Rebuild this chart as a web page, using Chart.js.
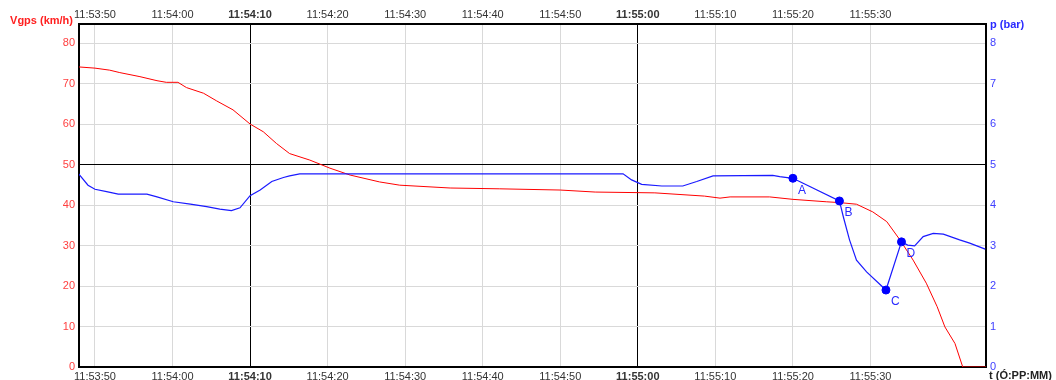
<!DOCTYPE html>
<html>
<head>
<meta charset="utf-8">
<script src="https://cdn.jsdelivr.net/npm/chart.js@4.4.0/dist/chart.umd.min.js"></script>
<style>
  html, body { margin: 0; padding: 0; background: #fff; }
  #wrap { width: 1056px; height: 380px; }
</style>
</head>
<body>
<div id="wrap"><canvas id="canvas"></canvas></div>
<script>
// time = seconds after 11:53:50
var T0 = 11*3600 + 53*60 + 50;

var speedTime = [-2.1, 0, 1.9, 3.2, 5.8, 8.0, 9.2, 10.7, 11.8, 14.0, 15.7, 17.8, 20.0, 21.7, 23.4, 25.1,
  27.7, 30.3, 32.9, 36.7, 39.3, 45.8, 52.2, 60.0, 64.5, 72.2, 78.6, 80.6, 81.9, 87.0, 90.0, 94.3,
  96.0, 98.2, 100.3, 102.1, 103.8, 105.5, 107.2, 108.6, 109.6, 110.9, 111.9, 115];
var speedKmh = [74.1, 73.8, 73.3, 72.7, 71.7, 70.7, 70.3, 70.3, 69.0, 67.6, 65.7, 63.5, 60.0, 58.1, 55.2, 52.7,
  51.1, 49.1, 47.4, 45.7, 44.9, 44.2, 44.0, 43.7, 43.2, 43.0, 42.2, 41.7, 42.0, 42.0, 41.4, 40.8,
  40.6, 40.2, 38.3, 35.9, 31.4, 26.4, 20.7, 14.9, 9.9, 5.8, 0, 0];

var pressTime = [-2.1, -0.9, 0, 1.5, 3.0, 6.7, 8.0, 10.1, 12.3, 14.4, 16.1, 17.6, 18.7, 20.0, 21.3, 22.8,
  24.3, 25.1, 26.4, 68.1, 69.2, 70.5, 73.1, 75.8, 77.6, 79.7, 87.4, 88.3, 90.0, 96.0, 96.5, 97.3,
  98.2, 99.5, 102.0, 104.0, 104.8, 105.7, 106.8, 108.1, 109.4, 111.5, 112.8, 114.8];
var pressBar = [4.77, 4.49, 4.39, 4.33, 4.27, 4.27, 4.20, 4.08, 4.02, 3.96, 3.90, 3.86, 3.93, 4.23, 4.37, 4.58,
  4.68, 4.72, 4.77, 4.77, 4.62, 4.51, 4.47, 4.47, 4.58, 4.72, 4.73, 4.70, 4.66, 4.10, 3.71, 3.14,
  2.64, 2.35, 1.90, 3.09, 3.01, 2.99, 3.22, 3.30, 3.28, 3.14, 3.06, 2.91];

var markerNames = ["A", "B", "C", "D"];
var markerTime = [90.0, 96.0, 102.0, 104.0];
var markerBar = [4.66, 4.10, 1.90, 3.09];

var blackTimes = [20, 70];
var boldTimes = [20, 70];
var lastTick = 100;  // 11:55:30

function pts(xs, ys) {
  return xs.map(function(x, i) { return {x: x, y: ys[i]}; });
}
function fmtTime(v) {
  var s = Math.round(T0 + v);
  var h = Math.floor(s/3600), m = Math.floor((s%3600)/60), sec = s%60;
  return h + ":" + (m<10?"0":"") + m + ":" + (sec<10?"0":"") + sec;
}
function cutTicks(s) {
  s.ticks = s.ticks.filter(function(t) { return t.value <= lastTick; });
}

var FONT = "Liberation Sans";
var xTickFont = function(c) {
  var bold = c.tick && boldTimes.indexOf(Math.round(c.tick.value)) >= 0;
  return {family: FONT, size: 11, weight: bold ? "bold" : "normal"};
};

var labelsPlugin = {
  id: "labels",
  afterDatasetsDraw: function(chart) {
    var ctx = chart.ctx;
    var meta = chart.getDatasetMeta(2);
    ctx.save();
    ctx.fillStyle = "#2a2aff";
    ctx.font = "12px " + FONT;
    ctx.textAlign = "left";
    ctx.textBaseline = "middle";
    meta.data.forEach(function(p, i) {
      ctx.fillText(markerNames[i], p.x + 5, p.y + 12);
    });
    ctx.restore();
  },
  afterDraw: function(chart) {
    var ctx = chart.ctx, a = chart.chartArea;
    ctx.save();
    ctx.font = "bold 11px " + FONT;
    ctx.textBaseline = "middle";
    ctx.fillStyle = "#ff2020";
    ctx.textAlign = "right";
    ctx.fillText("Vgps (km/h)", a.left - 6, a.top - 3);
    ctx.fillStyle = "#2a2aff";
    ctx.textAlign = "left";
    ctx.fillText("p (bar)", a.right + 4, a.top + 1);
    ctx.fillStyle = "#222";
    ctx.fillText("t (Ó:PP:MM)", a.right + 3, a.bottom + 9);
    ctx.restore();
  }
};

var config = {
  type: "line",
  data: {
    datasets: [
      {label: "Vgps", data: pts(speedTime, speedKmh), yAxisID: "y", xAxisID: "x",
        borderColor: "#ff0000", borderWidth: 1, pointRadius: 0, fill: false, order: 2},
      {label: "p", data: pts(pressTime, pressBar), yAxisID: "y2", xAxisID: "x",
        borderColor: "#1a1aff", borderWidth: 1.2, pointRadius: 0, fill: false, order: 1},
      {label: "markers", data: pts(markerTime, markerBar), yAxisID: "y2", xAxisID: "x",
        showLine: false, pointRadius: 4, backgroundColor: "#0000ff", borderColor: "#0000ff", order: 0}
    ]
  },
  options: {
    responsive: true,
    maintainAspectRatio: false,
    animation: false,
    layout: {padding: 0},
    plugins: {legend: {display: false}, tooltip: {enabled: false}},
    scales: {
      x: {
        type: "linear", position: "bottom", min: -2.06, max: 114.9,
        afterFit: function(s) { s.height = 13; },
        afterBuildTicks: cutTicks,
        ticks: {stepSize: 10, includeBounds: false, maxRotation: 0, autoSkip: false, padding: 3,
          color: "#333", font: xTickFont, callback: function(v) { return fmtTime(v); }},
        grid: {drawTicks: false, color: function(c) {
          return c.tick && blackTimes.indexOf(Math.round(c.tick.value)) >= 0 ? "#000" : "#d9d9d9"; }},
        border: {color: "#000", width: 2}
      },
      xTop: {
        type: "linear", position: "top", min: -2.06, max: 114.9,
        afterFit: function(s) { s.height = 24; },
        afterBuildTicks: cutTicks,
        ticks: {stepSize: 10, includeBounds: false, maxRotation: 0, autoSkip: false, padding: 2,
          color: "#333", font: xTickFont, callback: function(v) { return fmtTime(v); }},
        grid: {display: false, drawTicks: false},
        border: {color: "#000", width: 2}
      },
      y: {
        position: "left", min: 0, max: 84.7,
        afterFit: function(s) { s.width = 79; },
        ticks: {stepSize: 10, includeBounds: false, padding: 4, color: "#ff4040",
          font: {family: FONT, size: 11}},
        grid: {drawTicks: false, color: function(c) {
          return c.tick && c.tick.value === 50 ? "#000" : "#d9d9d9"; }},
        border: {color: "#000", width: 2}
      },
      y2: {
        position: "right", min: 0, max: 8.47,
        afterFit: function(s) { s.width = 70; },
        ticks: {stepSize: 1, includeBounds: false, padding: 4, color: "#4040ff",
          font: {family: FONT, size: 11}},
        grid: {display: false, drawTicks: false},
        border: {color: "#000", width: 2}
      }
    }
  },
  plugins: [labelsPlugin]
};

window.onload = function() {
  var ctx = document.getElementById("canvas").getContext("2d");
  window.graph1 = new Chart(ctx, config);
};
</script>
</body>
</html>
